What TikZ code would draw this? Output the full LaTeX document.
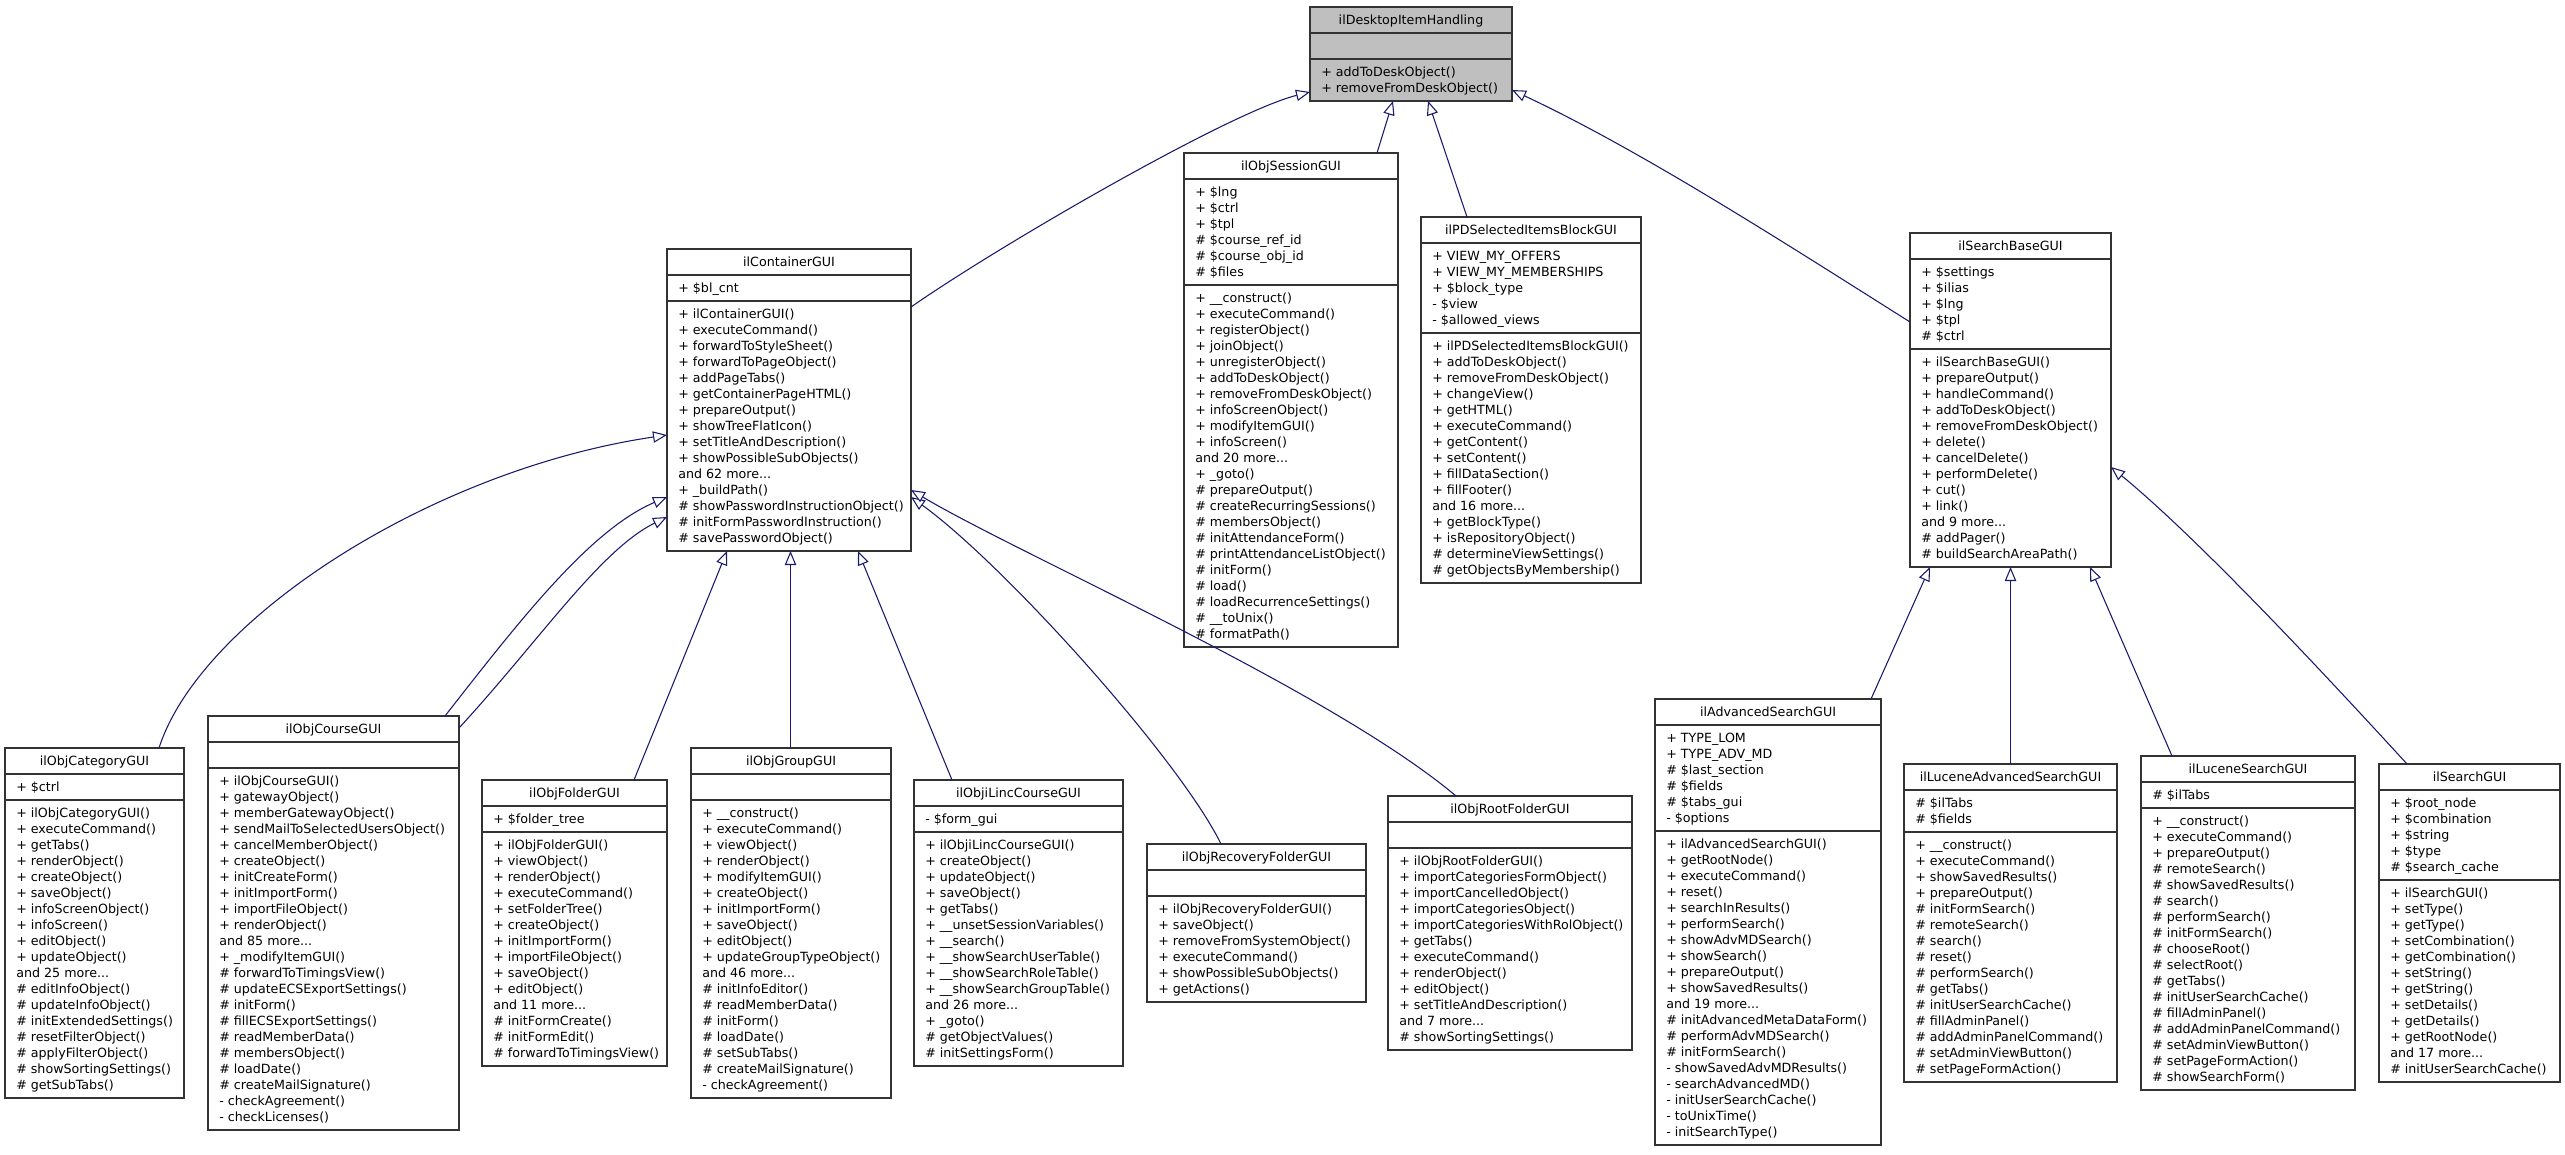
\documentclass[tikz,border=0pt]{standalone}
\usepackage{fontspec}
\setmainfont{DejaVu Sans}
\usetikzlibrary{arrows.meta,calc}
\definecolor{edgeblue}{HTML}{191970}
\definecolor{boxgray}{HTML}{BFBFBF}
\newcommand{\mdots}{...}
\tikzset{
  classbox/.style={draw=black!80, line width=1.1pt, inner sep=0pt, outer sep=0pt, anchor=north west},
  sepline/.style={draw=black!80, line width=1.3pt},
  member/.style={font=\fontsize{9.5}{12}\selectfont, inner sep=0pt, anchor=base west, text=black},
  ctitle/.style={font=\fontsize{9.5}{12}\selectfont, inner sep=0pt, anchor=base, text=black},
  inherit/.style={draw=edgeblue, line width=0.8pt, -{Triangle[length=10.5pt,width=8.5pt,fill=white]}},
}
% name, left, right, top, nAttr, nMeth, fill, title
\newcommand{\umlbox}[8]{%
  \pgfmathsetmacro{\uA}{#4+26}%
  \pgfmathsetmacro{\uB}{\uA+max(26,10+16*#5)}%
  \pgfmathsetmacro{\uC}{\uB+10+16*#6}%
  \pgfmathsetmacro{\uW}{(#3-#2)*0.75}%
  \pgfmathsetmacro{\uH}{(\uC-#4)*0.75}%
  \pgfmathsetmacro{\uM}{(#2+#3)/2}%
  \node[classbox, fill=#7, minimum width=\uW pt, minimum height=\uH pt] (#1) at (#2,#4) {};
  \coordinate (#1-s1) at (#2,\uA);
  \coordinate (#1-s2) at (#2,\uB);
  \draw[sepline] (#2,\uA) -- (#3,\uA) (#2,\uB) -- (#3,\uB);
  \node[ctitle] (#1-title) at (\uM,#4+17.6) {#8};
}
% start coordinate, prefix, list
\newcommand{\umllines}[3]{%
  \foreach \umlitem [count=\umlk from 0] in {#3} {
    \path (#1) ++(11,{17.6+16*\umlk}) node[member] (#2-\umlk) {\umlitem};
  }
}
\begin{document}
\begin{tikzpicture}[x=0.75pt,y=-0.75pt]
\useasboundingbox[fill=white] (0,0) rectangle (2565,1155);

% ---- top
\umlbox{dih}{1310}{1512}{7}{0}{2}{boxgray}{ilDesktopItemHandling}
\umllines{dih-s2}{dih-m}{+ addToDeskObject(), + removeFromDeskObject()}

% ---- ilContainerGUI
\umlbox{cont}{667}{911}{249}{1}{15}{white}{ilContainerGUI}
\umllines{cont-s1}{cont-a}{+ \$bl\_cnt}
\umllines{cont-s2}{cont-m}{+ ilContainerGUI(), + executeCommand(), + forwardToStyleSheet(), + forwardToPageObject(), + addPageTabs(), + getContainerPageHTML(), + prepareOutput(), + showTreeFlatIcon(), + setTitleAndDescription(), + showPossibleSubObjects(), and 62 more\mdots, + \_buildPath(), \# showPasswordInstructionObject(), \# initFormPasswordInstruction(), \# savePasswordObject()}

% ---- ilObjSessionGUI
\umlbox{sess}{1184}{1398}{153}{6}{22}{white}{ilObjSessionGUI}
\umllines{sess-s1}{sess-a}{+ \$lng, + \$ctrl, + \$tpl, \# \$course\_ref\_id, \# \$course\_obj\_id, \# \$files}
\umllines{sess-s2}{sess-m}{+ \_\_construct(), + executeCommand(), + registerObject(), + joinObject(), + unregisterObject(), + addToDeskObject(), + removeFromDeskObject(), + infoScreenObject(), + modifyItemGUI(), + infoScreen(), and 20 more\mdots, + \_goto(), \# prepareOutput(), \# createRecurringSessions(), \# membersObject(), \# initAttendanceForm(), \# printAttendanceListObject(), \# initForm(), \# load(), \# loadRecurrenceSettings(), \# \_\_toUnix(), \# formatPath()}

% ---- ilPDSelectedItemsBlockGUI
\umlbox{pds}{1421}{1641}{217}{5}{15}{white}{ilPDSelectedItemsBlockGUI}
\umllines{pds-s1}{pds-a}{+ VIEW\_MY\_OFFERS, + VIEW\_MY\_MEMBERSHIPS, + \$block\_type, - \$view, - \$allowed\_views}
\umllines{pds-s2}{pds-m}{+ ilPDSelectedItemsBlockGUI(), + addToDeskObject(), + removeFromDeskObject(), + changeView(), + getHTML(), + executeCommand(), + getContent(), + setContent(), + fillDataSection(), + fillFooter(), and 16 more\mdots, + getBlockType(), + isRepositoryObject(), \# determineViewSettings(), \# getObjectsByMembership()}

% ---- ilSearchBaseGUI
\umlbox{sbase}{1910}{2111}{233}{5}{13}{white}{ilSearchBaseGUI}
\umllines{sbase-s1}{sbase-a}{+ \$settings, + \$ilias, + \$lng, + \$tpl, \# \$ctrl}
\umllines{sbase-s2}{sbase-m}{+ ilSearchBaseGUI(), + prepareOutput(), + handleCommand(), + addToDeskObject(), + removeFromDeskObject(), + delete(), + cancelDelete(), + performDelete(), + cut(), + link(), and 9 more\mdots, \# addPager(), \# buildSearchAreaPath()}

% ---- ilObjCategoryGUI
\umlbox{cat}{5}{184}{748}{1}{18}{white}{ilObjCategoryGUI}
\umllines{cat-s1}{cat-a}{+ \$ctrl}
\umllines{cat-s2}{cat-m}{+ ilObjCategoryGUI(), + executeCommand(), + getTabs(), + renderObject(), + createObject(), + saveObject(), + infoScreenObject(), + infoScreen(), + editObject(), + updateObject(), and 25 more\mdots, \# editInfoObject(), \# updateInfoObject(), \# initExtendedSettings(), \# resetFilterObject(), \# applyFilterObject(), \# showSortingSettings(), \# getSubTabs()}

% ---- ilObjCourseGUI
\umlbox{course}{208}{459}{716}{0}{22}{white}{ilObjCourseGUI}
\umllines{course-s2}{course-m}{+ ilObjCourseGUI(), + gatewayObject(), + memberGatewayObject(), + sendMailToSelectedUsersObject(), + cancelMemberObject(), + createObject(), + initCreateForm(), + initImportForm(), + importFileObject(), + renderObject(), and 85 more\mdots, + \_modifyItemGUI(), \# forwardToTimingsView(), \# updateECSExportSettings(), \# initForm(), \# fillECSExportSettings(), \# readMemberData(), \# membersObject(), \# loadDate(), \# createMailSignature(), - checkAgreement(), - checkLicenses()}

% ---- ilObjFolderGUI
\umlbox{folder}{482}{667}{780}{1}{14}{white}{ilObjFolderGUI}
\umllines{folder-s1}{folder-a}{+ \$folder\_tree}
\umllines{folder-s2}{folder-m}{+ ilObjFolderGUI(), + viewObject(), + renderObject(), + executeCommand(), + setFolderTree(), + createObject(), + initImportForm(), + importFileObject(), + saveObject(), + editObject(), and 11 more\mdots, \# initFormCreate(), \# initFormEdit(), \# forwardToTimingsView()}

% ---- ilObjGroupGUI
\umlbox{group}{691}{891}{748}{0}{18}{white}{ilObjGroupGUI}
\umllines{group-s2}{group-m}{+ \_\_construct(), + executeCommand(), + viewObject(), + renderObject(), + modifyItemGUI(), + createObject(), + initImportForm(), + saveObject(), + editObject(), + updateGroupTypeObject(), and 46 more\mdots, \# initInfoEditor(), \# readMemberData(), \# initForm(), \# loadDate(), \# setSubTabs(), \# createMailSignature(), - checkAgreement()}

% ---- ilObjiLincCourseGUI
\umlbox{ilinc}{914}{1123}{780}{1}{14}{white}{ilObjiLincCourseGUI}
\umllines{ilinc-s1}{ilinc-a}{- \$form\_gui}
\umllines{ilinc-s2}{ilinc-m}{+ ilObjiLincCourseGUI(), + createObject(), + updateObject(), + saveObject(), + getTabs(), + \_\_unsetSessionVariables(), + \_\_search(), + \_\_showSearchUserTable(), + \_\_showSearchRoleTable(), + \_\_showSearchGroupTable(), and 26 more\mdots, + \_goto(), \# getObjectValues(), \# initSettingsForm()}

% ---- ilObjRecoveryFolderGUI
\umlbox{rec}{1147}{1366}{844}{0}{6}{white}{ilObjRecoveryFolderGUI}
\umllines{rec-s2}{rec-m}{+ ilObjRecoveryFolderGUI(), + saveObject(), + removeFromSystemObject(), + executeCommand(), + showPossibleSubObjects(), + getActions()}

% ---- ilObjRootFolderGUI
\umlbox{root}{1388}{1632}{796}{0}{12}{white}{ilObjRootFolderGUI}
\umllines{root-s2}{root-m}{+ ilObjRootFolderGUI(), + importCategoriesFormObject(), + importCancelledObject(), + importCategoriesObject(), + importCategoriesWithRolObject(), + getTabs(), + executeCommand(), + renderObject(), + editObject(), + setTitleAndDescription(), and 7 more\mdots, \# showSortingSettings()}

% ---- ilAdvancedSearchGUI
\umlbox{adv}{1655}{1881}{699}{6}{19}{white}{ilAdvancedSearchGUI}
\umllines{adv-s1}{adv-a}{+ TYPE\_LOM, + TYPE\_ADV\_MD, \# \$last\_section, \# \$fields, \# \$tabs\_gui, - \$options}
\umllines{adv-s2}{adv-m}{+ ilAdvancedSearchGUI(), + getRootNode(), + executeCommand(), + reset(), + searchInResults(), + performSearch(), + showAdvMDSearch(), + showSearch(), + prepareOutput(), + showSavedResults(), and 19 more\mdots, \# initAdvancedMetaDataForm(), \# performAdvMDSearch(), \# initFormSearch(), - showSavedAdvMDResults(), - searchAdvancedMD(), - initUserSearchCache(), - toUnixTime(), - initSearchType()}

% ---- ilLuceneAdvancedSearchGUI
\umlbox{lucadv}{1904}{2117}{764}{2}{15}{white}{ilLuceneAdvancedSearchGUI}
\umllines{lucadv-s1}{lucadv-a}{\# \$ilTabs, \# \$fields}
\umllines{lucadv-s2}{lucadv-m}{+ \_\_construct(), + executeCommand(), + showSavedResults(), + prepareOutput(), \# initFormSearch(), \# remoteSearch(), \# search(), \# reset(), \# performSearch(), \# getTabs(), \# initUserSearchCache(), \# fillAdminPanel(), \# addAdminPanelCommand(), \# setAdminViewButton(), \# setPageFormAction()}

% ---- ilLuceneSearchGUI
\umlbox{luc}{2141}{2355}{756}{1}{17}{white}{ilLuceneSearchGUI}
\umllines{luc-s1}{luc-a}{\# \$ilTabs}
\umllines{luc-s2}{luc-m}{+ \_\_construct(), + executeCommand(), + prepareOutput(), \# remoteSearch(), \# showSavedResults(), \# search(), \# performSearch(), \# initFormSearch(), \# chooseRoot(), \# selectRoot(), \# getTabs(), \# initUserSearchCache(), \# fillAdminPanel(), \# addAdminPanelCommand(), \# setAdminViewButton(), \# setPageFormAction(), \# showSearchForm()}

% ---- ilSearchGUI
\umlbox{sgui}{2379}{2560}{764}{5}{12}{white}{ilSearchGUI}
\umllines{sgui-s1}{sgui-a}{+ \$root\_node, + \$combination, + \$string, + \$type, \# \$search\_cache}
\umllines{sgui-s2}{sgui-m}{+ ilSearchGUI(), + setType(), + getType(), + setCombination(), + getCombination(), + setString(), + getString(), + setDetails(), + getDetails(), + getRootNode(), and 17 more\mdots, \# initUserSearchCache()}

% ---- inheritance edges
\draw[inherit] ($(cont.north east)+(0,58)$) .. controls (1000,245) and (1230,112) .. ($(dih.north west)+(0,85)$);
\draw[inherit] ($(sess.north west)+(193,0)$) -- ($(dih.south west)+(83,0)$);
\draw[inherit] ($(pds.north west)+(46,0)$) -- ($(dih.south west)+(118,0)$);
\draw[inherit] ($(sbase.north west)+(0,89)$) .. controls (1780,240) and (1640,150) .. ($(dih.north east)+(0,83)$);

\draw[inherit] ($(cat.north west)+(154,0)$) .. controls (200,620) and (430,470) .. ($(cont.north west)+(0,186)$);
\draw[inherit] ($(course.north west)+(237,0)$) .. controls (520,620) and (590,530) .. ($(cont.north west)+(0,248)$);
\draw[inherit] ($(course.north east)+(0,12)$) .. controls (540,640) and (600,550) .. ($(cont.north west)+(0,268)$);
\draw[inherit] ($(folder.north west)+(152,0)$) -- ($(cont.south west)+(60,0)$);
\draw[inherit] ($(group.north west)+(99.5,0)$) -- ($(cont.south west)+(123.5,0)$);
\draw[inherit] ($(ilinc.north west)+(38,0)$) -- ($(cont.south west)+(191,0)$);
\draw[inherit] ($(rec.north west)+(74,0)$) .. controls (1180,760) and (1005,565) .. ($(cont.north east)+(0,248)$);
\draw[inherit] ($(root.north west)+(68,0)$) .. controls (1330,690) and (1020,555) .. ($(cont.north east)+(0,241)$);

\draw[inherit] ($(adv.north east)+(-10,0)$) -- ($(sbase.south west)+(20,0)$);
\draw[inherit] ($(lucadv.north west)+(106.5,0)$) -- ($(sbase.south west)+(100.5,0)$);
\draw[inherit] ($(luc.north west)+(31,0)$) -- ($(sbase.south west)+(180,0)$);
\draw[inherit] ($(sgui.north west)+(28,0)$) .. controls (2330,680) and (2200,540) .. ($(sbase.north east)+(0,234)$);
\end{tikzpicture}
\end{document}
